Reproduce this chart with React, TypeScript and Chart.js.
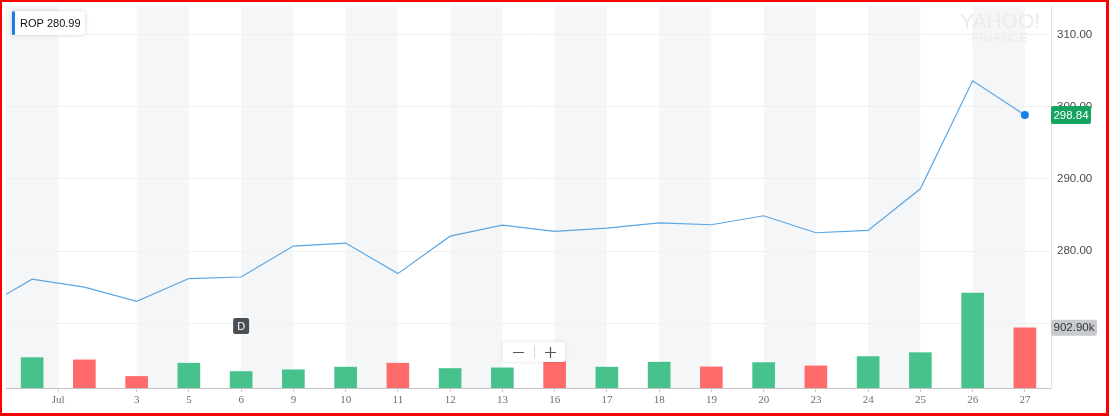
import React, { useEffect, useRef } from "react";
import { Chart, registerables } from "chart.js";

Chart.register(...registerables);

// ---------- data ----------
const symbol = "ROP";
const legendValue = "280.99";
const dates = [
  "Jun 28", "Jun 29", "Jul 2", "Jul 3", "Jul 5", "Jul 6", "Jul 9", "Jul 10", "Jul 11",
  "Jul 12", "Jul 13", "Jul 16", "Jul 17", "Jul 18", "Jul 19", "Jul 20", "Jul 23",
  "Jul 24", "Jul 25", "Jul 26", "Jul 27",
];
const closes = [
  271.9, 276.1, 275.0, 273.05, 276.2, 276.41, 280.69, 281.11, 276.88,
  282.07, 283.59, 282.72, 283.18, 283.92, 283.65, 284.89, 282.54,
  282.86, 288.62, 303.58, 298.84,
];
const volumes = [
  null, 456000, 422000, 173000, 372000, 247000, 273000, 313000, 372000,
  292000, 302000, 396000, 313000, 387000, 317000, 381000, 332000,
  471000, 530000, 1424000, 902900,
];
const xTickLabels = ["Jul", "3", "5", "6", "9", "10", "11", "12", "13", "16", "17", "18", "19", "20", "23", "24", "25", "26", "27"];
const priceTicks = [270, 280, 290, 300, 310];
const priceTickLabels = ["", "280.00", "290.00", "300.00", "310.00"];
const dividendDates = ["Jul 6"];
const lastPriceLabel = "298.84";
const lastVolumeLabel = "902.90k";

// ---------- styles ----------
const UP = "#48c28c";
const DOWN = "#ff6b6b";
const LINE = "#5aa6e4";
const STRIPE = "#f5f6f7";

function tickValueFor(label: string): number {
  if (isNaN(Number(label))) {
    const i = dates.findIndex((d) => d.startsWith(label));
    return i - 0.5;
  }
  return dates.findIndex((d) => d === "Jul " + label);
}
const xTickValues = xTickLabels.map(tickValueFor);

function roundRect(ctx: CanvasRenderingContext2D, x: number, y: number, w: number, h: number, r: number) {
  ctx.beginPath();
  ctx.moveTo(x + r, y);
  ctx.lineTo(x + w - r, y);
  ctx.quadraticCurveTo(x + w, y, x + w, y + r);
  ctx.lineTo(x + w, y + h - r);
  ctx.quadraticCurveTo(x + w, y + h, x + w - r, y + h);
  ctx.lineTo(x + r, y + h);
  ctx.quadraticCurveTo(x, y + h, x, y + h - r);
  ctx.lineTo(x, y + r);
  ctx.quadraticCurveTo(x, y, x + r, y);
  ctx.closePath();
}

const backgroundPlugin = {
  id: "stripes",
  beforeDraw(chart: any) {
    const { ctx, chartArea } = chart;
    const xs = chart.scales.x;
    ctx.save();
    ctx.fillStyle = "#ffffff";
    ctx.fillRect(0, 0, chart.width, chart.height);
    const bounds = [xs.min, ...xTickValues, xs.max];
    for (let j = 0; j < bounds.length - 1; j++) {
      if (j % 2 !== 0) continue;
      const a = xs.getPixelForValue(bounds[j]);
      const b = xs.getPixelForValue(bounds[j + 1]);
      ctx.fillStyle = STRIPE;
      ctx.fillRect(a, chartArea.top, b - a, chartArea.bottom - chartArea.top);
    }
    // watermark
    const cx = chartArea.right - 51;
    ctx.fillStyle = "#ebebeb";
    ctx.textAlign = "center";
    ctx.textBaseline = "middle";
    ctx.font = "21px 'Liberation Sans'";
    ctx.fillText("YAHOO!", cx, 20);
    ctx.font = "13px 'Liberation Sans'";
    ctx.fillText("FINANCE", cx, 36);
    ctx.restore();
  },
};

const overlayPlugin = {
  id: "overlays",
  afterDraw(chart: any) {
    const { ctx, chartArea } = chart;
    const xs = chart.scales.x;
    const ps = chart.scales.price;
    const vs = chart.scales.vol;
    ctx.save();

    // legend box
    ctx.shadowColor = "rgba(0,0,0,0.18)";
    ctx.shadowBlur = 4;
    ctx.fillStyle = "#ffffff";
    roundRect(ctx, 10, 9, 73, 24, 3);
    ctx.fill();
    ctx.shadowBlur = 0;
    ctx.shadowColor = "transparent";
    ctx.fillStyle = "#1a7fe8";
    roundRect(ctx, 10, 9, 3, 24, 1.5);
    ctx.fill();
    ctx.fillStyle = "#111";
    ctx.font = "11px 'Liberation Sans'";
    ctx.textAlign = "left";
    ctx.textBaseline = "middle";
    ctx.fillText(symbol + " " + legendValue, 18, 21.5);

    // dividend marker
    dividendDates.forEach((d) => {
      const x = xs.getPixelForValue(dates.indexOf(d));
      ctx.fillStyle = "#4a4f55";
      roundRect(ctx, x - 8, 316, 16, 16, 2);
      ctx.fill();
      ctx.fillStyle = "#ffffff";
      ctx.font = "11px 'Liberation Sans'";
      ctx.textAlign = "center";
      ctx.fillText("D", x, 324.5);
    });

    // zoom control
    ctx.shadowColor = "rgba(0,0,0,0.12)";
    ctx.shadowBlur = 4;
    ctx.fillStyle = "#ffffff";
    roundRect(ctx, 501, 340, 62, 20, 2);
    ctx.fill();
    ctx.shadowBlur = 0;
    ctx.shadowColor = "transparent";
    ctx.strokeStyle = "#555";
    ctx.lineWidth = 1.2;
    ctx.beginPath();
    ctx.moveTo(511, 350.5);
    ctx.lineTo(522, 350.5);
    ctx.moveTo(543, 350.5);
    ctx.lineTo(554, 350.5);
    ctx.moveTo(548.5, 345);
    ctx.lineTo(548.5, 356);
    ctx.stroke();
    ctx.strokeStyle = "#d6d6d6";
    ctx.lineWidth = 1;
    ctx.beginPath();
    ctx.moveTo(532.5, 343);
    ctx.lineTo(532.5, 356);
    ctx.stroke();

    // last price label
    const last = closes.length - 1;
    const py = ps.getPixelForValue(closes[last]);
    ctx.fillStyle = "#14a460";
    roundRect(ctx, chartArea.right, py - 9, 40, 18, 2);
    ctx.fill();
    ctx.fillStyle = "#ffffff";
    ctx.font = "11.5px 'Liberation Sans'";
    ctx.textAlign = "center";
    ctx.fillText(lastPriceLabel, chartArea.right + 20, py + 0.5);

    // last volume label
    const vy = vs.getPixelForValue(volumes[last] as number);
    ctx.fillStyle = "#c7cace";
    roundRect(ctx, chartArea.right, vy - 8, 46, 16, 2);
    ctx.fill();
    ctx.fillStyle = "#333";
    ctx.fillText(lastVolumeLabel, chartArea.right + 23, vy + 0.5);

    ctx.restore();
  },
};

export default function App() {
  const ref = useRef<HTMLCanvasElement | null>(null);

  useEffect(() => {
    if (!ref.current) return;
    const barColors = closes.map((c, i) => (i === 0 || c >= closes[i - 1] ? UP : DOWN));
    const chart = new Chart(ref.current, {
      type: "line",
      data: {
        datasets: [
          {
            type: "line",
            data: closes.map((c, i) => ({ x: i, y: c })),
            yAxisID: "price",
            xAxisID: "x",
            borderColor: LINE,
            borderWidth: 1.2,
            pointRadius: closes.map((_, i) => (i === closes.length - 1 ? 4 : 0)),
            pointBackgroundColor: "#1580e8",
            pointBorderWidth: 0,
            tension: 0,
            fill: false,
            order: 0,
          } as any,
          {
            type: "bar",
            data: volumes.map((v, i) => ({ x: i, y: v })),
            yAxisID: "vol",
            xAxisID: "x",
            backgroundColor: barColors,
            barThickness: 22,
            order: 1,
          } as any,
        ],
      },
      options: {
        animation: false,
        responsive: false,
        devicePixelRatio: 1,
        layout: { padding: { left: 1, top: 3, right: 0, bottom: 0 } },
        plugins: { legend: { display: false }, tooltip: { enabled: false } },
        scales: {
          x: {
            type: "linear",
            min: 0.5,
            max: 20.5,
            offset: false,
            afterBuildTicks: (s: any) => {
              s.ticks = xTickValues.map((v) => ({ value: v }));
            },
            afterFit: (s: any) => {
              s.height = 25;
              s.paddingLeft = 0;
              s.paddingRight = 0;
            },
            ticks: {
              autoSkip: false,
              maxRotation: 0,
              padding: 2,
              color: "#6f6f6f",
              font: { family: "'Liberation Serif'", size: 11 },
              callback: (v: any) => xTickLabels[xTickValues.indexOf(Number(v))] ?? "",
            },
            grid: { drawOnChartArea: false, drawTicks: true, tickLength: 4, color: "#d2d2d2", offset: false },
            border: { color: "#c6c6c6" },
          },
          price: {
            type: "linear",
            position: "right",
            min: 261.04,
            max: 313.94,
            afterBuildTicks: (s: any) => {
              s.ticks = priceTicks.map((v) => ({ value: v }));
            },
            afterFit: (s: any) => {
              s.width = 55;
              s.paddingTop = 0;
              s.paddingBottom = 0;
            },
            ticks: {
              padding: 6,
              color: "#4a4a4a",
              font: { family: "'Liberation Sans'", size: 11.5 },
              callback: (v: any) => priceTickLabels[priceTicks.indexOf(Number(v))] ?? "",
            },
            grid: { color: "#f0f0f0", drawTicks: false },
            border: { color: "#e0e0e0" },
          },
          vol: {
            type: "linear",
            display: false,
            min: 0,
            max: 5730000,
          },
        },
      } as any,
      plugins: [backgroundPlugin, overlayPlugin],
    });
    return () => chart.destroy();
  }, []);

  return (
    <div
      style={{
        position: "fixed",
        left: 0,
        top: 0,
        width: 1109,
        height: 416,
        boxSizing: "border-box",
        borderStyle: "solid",
        borderColor: "#ff0000",
        borderWidth: "2px 3px 3px 2px",
        background: "#ffffff",
      }}
    >
      <canvas ref={ref} width={1104} height={411} style={{ display: "block" }} />
    </div>
  );
}
